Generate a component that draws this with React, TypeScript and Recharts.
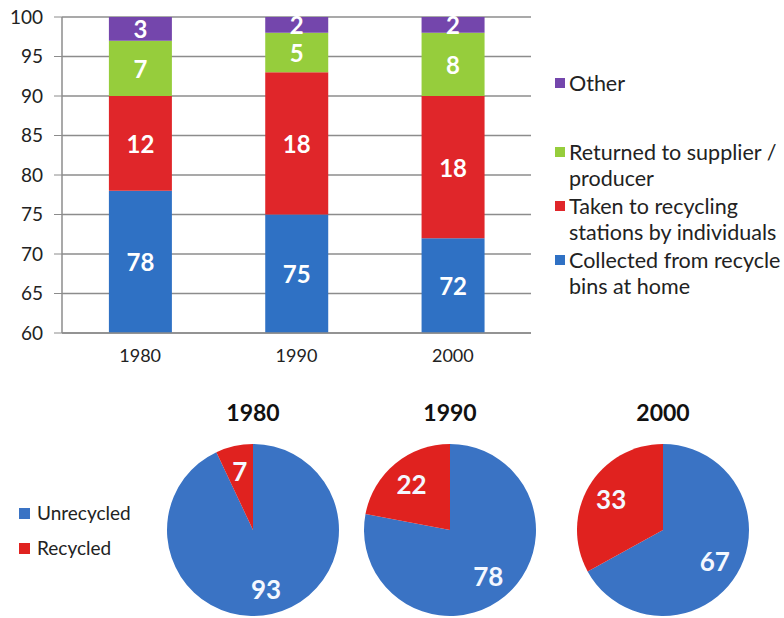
import React from 'react';
import { BarChart, Bar, XAxis, YAxis, CartesianGrid, LabelList, PieChart, Pie, Cell } from 'recharts';

// stacked bar: how waste was recycled (percent, axis starts at 60)
const years = ['1980', '1990', '2000'];
const collectedBins = [78, 75, 72];
const takenStations = [12, 18, 18];
const returnedSupplier = [7, 5, 8];
const otherWays = [3, 2, 2];
const yTicks = [60, 65, 70, 75, 80, 85, 90, 95, 100];

// pies: share recycled vs unrecycled
const pieYears = ['1980', '1990', '2000'];
const unrecycled = [93, 78, 67];
const recycled = [7, 22, 33];
const pieNames = ['Unrecycled', 'Recycled'];

const BLUE = '#2f71c4';
const RED = '#e0262a';
const GREEN = '#96cd3c';
const PURPLE = '#7446ac';
const PIE_BLUE = '#3a73c4';
const PIE_RED = '#e0221f';
const FONT = 'Lato, "Open Sans", sans-serif';

const PLOT_TOP = 17;
const PLOT_BOTTOM = 333;

const barSeries = [
  { key: 'collected', name: 'Collected from recycle bins at home', color: BLUE },
  { key: 'taken', name: 'Taken to recycling stations by individuals', color: RED },
  { key: 'returned', name: 'Returned to supplier / producer', color: GREEN },
  { key: 'other', name: 'Other', color: PURPLE },
];

const barData = years.map((year, i) => ({
  year,
  collected: collectedBins[i],
  taken: takenStations[i],
  returned: returnedSupplier[i],
  other: otherWays[i],
}));

const SegmentLabel = (props: any) => {
  const { x, y, width, height, value } = props;
  const top = Math.max(y, PLOT_TOP);
  const bottom = Math.min(y + height, PLOT_BOTTOM);
  return (
    <text
      x={x + width / 2}
      y={(top + bottom) / 2}
      textAnchor="middle"
      dominantBaseline="central"
      fill="#ffffff"
      fontSize={24}
      fontWeight={700}
      fontFamily={FONT}
    >
      {value}
    </text>
  );
};

const renderPieLabel = (props: any) => {
  const { cx, cy, midAngle, outerRadius, value } = props;
  const r = outerRadius * 0.7;
  const rad = Math.PI / 180;
  return (
    <text
      x={cx + r * Math.cos(-midAngle * rad)}
      y={cy + r * Math.sin(-midAngle * rad)}
      textAnchor="middle"
      dominantBaseline="central"
      fill="#f4f8ff"
      fontSize={26}
      fontWeight={700}
      fontFamily={FONT}
    >
      {value}
    </text>
  );
};

const pieCenters = [253, 450, 663];

export default function App() {
  const legendItems = [...barSeries].reverse();
  return (
    <div style={{ position: 'absolute', left: 0, top: 0, width: 784, height: 618, background: '#fff', overflow: 'hidden' }}>
      <div style={{ position: 'absolute', left: 0, top: 0 }}>
        <BarChart width={540} height={380} data={barData} margin={{ top: PLOT_TOP, right: 9, bottom: 17, left: 0 }} barCategoryGap="30%">
          <CartesianGrid horizontal vertical={false} stroke="#8c8c8c" strokeWidth={1.5} />
          <XAxis
            dataKey="year"
            height={30}
            axisLine={{ stroke: '#8c8c8c', strokeWidth: 1.5 }}
            tickLine={false}
            tickSize={8}
            tickMargin={8}
            tick={{ fill: '#222', fontSize: 18, fontFamily: FONT }}
          />
          <YAxis
            width={62}
            domain={[60, 100]}
            ticks={yTicks}
            allowDataOverflow
            interval={0}
            axisLine={{ stroke: '#8c8c8c', strokeWidth: 1.5 }}
            tickLine={{ stroke: '#8c8c8c' }}
            tickSize={8}
            tickMargin={11}
            tick={{ fill: '#222', fontSize: 19, fontFamily: FONT }}
          />
          {barSeries.map((s) => (
            <Bar key={s.key} dataKey={s.key} name={s.name} stackId="a" fill={s.color} isAnimationActive={false}>
              <LabelList dataKey={s.key} content={<SegmentLabel />} />
            </Bar>
          ))}
        </BarChart>
      </div>

      <div style={{ position: 'absolute', left: 555, top: 70, fontFamily: FONT, fontSize: 21.5, color: '#222', lineHeight: '26px' }}>
        {legendItems.map((item, i) => (
          <div key={item.key} style={{ display: 'flex', marginBottom: i === 0 ? 43 : 2 }}>
            <span style={{ width: 10, height: 10, background: item.color, marginTop: 8, marginRight: 4, flex: 'none' }} />
            <span style={{ width: 222 }}>{item.name}</span>
          </div>
        ))}
      </div>

      {pieYears.map((year, i) => (
        <div
          key={year}
          style={{
            position: 'absolute',
            left: pieCenters[i] - 50,
            top: 399,
            width: 100,
            textAlign: 'center',
            fontFamily: FONT,
            fontWeight: 700,
            fontSize: 23,
            lineHeight: '26px',
            color: '#111',
          }}
        >
          {year}
        </div>
      ))}

      <div style={{ position: 'absolute', left: 0, top: 380 }}>
        <PieChart width={784} height={238} margin={{ top: 0, right: 0, bottom: 0, left: 0 }}>
          {pieYears.map((year, i) => (
            <Pie
              key={year}
              data={[
                { name: pieNames[0], value: unrecycled[i] },
                { name: pieNames[1], value: recycled[i] },
              ]}
              dataKey="value"
              cx={pieCenters[i]}
              cy={150}
              outerRadius={86}
              startAngle={90}
              endAngle={-270}
              stroke="none"
              label={renderPieLabel}
              labelLine={false}
              isAnimationActive={false}
            >
              <Cell fill={PIE_BLUE} />
              <Cell fill={PIE_RED} />
            </Pie>
          ))}
        </PieChart>
      </div>

      <div style={{ position: 'absolute', left: 19, top: 500, fontFamily: FONT, fontSize: 19, color: '#222', lineHeight: '26px' }}>
        {pieNames.map((name, i) => (
          <div key={name} style={{ display: 'flex', alignItems: 'center', marginBottom: 9 }}>
            <span style={{ width: 11, height: 11, background: i === 0 ? PIE_BLUE : PIE_RED, marginRight: 7 }} />
            <span>{name}</span>
          </div>
        ))}
      </div>
    </div>
  );
}
